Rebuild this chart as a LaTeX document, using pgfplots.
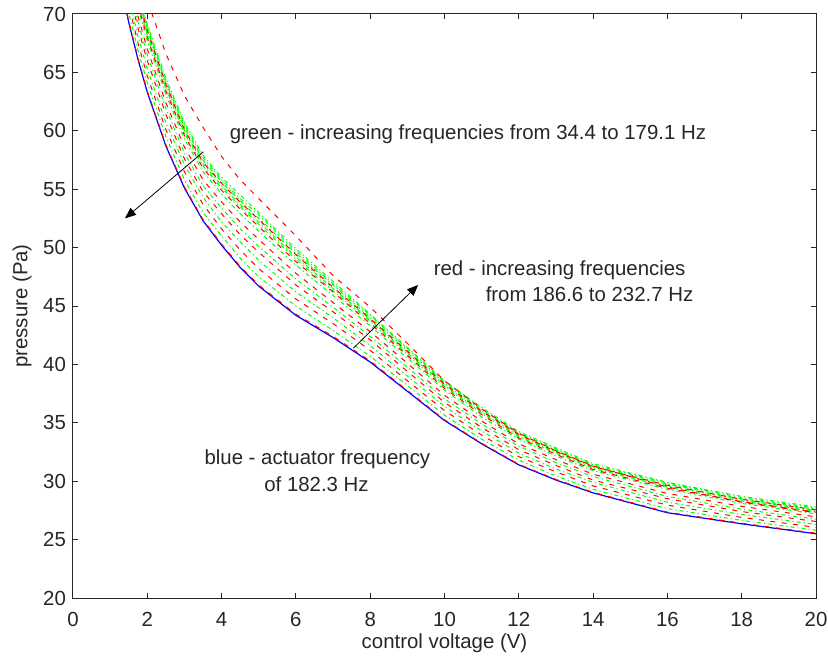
\documentclass[border=0pt]{standalone}
\usepackage{fontspec}
\setmainfont{Liberation Sans}
\usepackage{pgfplots}
\usepackage{pgfplotstable}
\pgfplotsset{compat=1.18}
\usetikzlibrary{arrows.meta}

\pgfplotstableread{
x    b     r0    g0    r1    g1    r2    g2    r3    g3    r4    g4    g5    r5    g6    g7    g8    r6
1.25 72.8  72.9  73.6  74.3  74.9  75.5  76.0  76.5  77.3  77.6  77.8  78.0  78.2  78.3  78.5  78.7  81.5
1.5  69.3  69.4  70.1  70.8  71.4  72.0  72.5  73.0  73.8  74.1  74.3  74.5  74.7  74.8  75.0  75.2  77.5
1.75 66.1  66.2  66.9  67.5  68.1  68.8  69.3  69.8  70.5  70.8  71.0  71.2  71.4  71.5  71.7  71.9  74.0
2    63.3  63.4  64.1  64.7  65.3  66.0  66.5  67.0  67.7  68.0  68.2  68.4  68.6  68.7  68.9  69.1  71.2
2.5  58.7  58.8  59.5  60.1  60.7  61.4  61.9  62.4  63.1  63.4  63.6  63.8  64.0  64.1  64.3  64.5  66.6
3    55.1  55.2  55.8  56.5  57.1  57.6  58.1  58.6  59.3  59.6  59.8  60.0  60.1  60.3  60.5  60.7  63.0
3.5  52.3  52.4  53.0  53.7  54.3  54.8  55.3  55.8  56.5  56.8  57.0  57.2  57.3  57.5  57.7  57.9  60.3
4    50.2  50.3  51.0  51.6  52.2  52.9  53.4  53.9  54.6  54.9  55.1  55.3  55.5  55.6  55.8  56.0  57.8
4.5  48.3  48.4  49.1  49.8  50.5  51.1  51.6  52.2  52.9  53.3  53.5  53.7  53.9  54.0  54.2  54.5  55.8
5    46.7  46.8  47.5  48.2  48.9  49.6  50.1  50.7  51.4  51.8  52.0  52.2  52.4  52.5  52.8  53.0  54.2
6    44.2  44.3  45.0  45.6  46.2  46.8  47.3  47.8  48.5  48.8  49.0  49.2  49.4  49.5  49.7  49.9  51.0
7    42.3  42.4  42.9  43.5  44.0  44.5  44.9  45.3  45.9  46.2  46.3  46.5  46.6  46.8  46.9  47.1  47.6
8    40.2  40.3  40.7  41.2  41.6  42.1  42.4  42.8  43.3  43.5  43.7  43.8  43.9  44.0  44.2  44.3  44.9
9    37.7  37.77 38.2  38.6  39.0  39.4  39.75 40.1  40.55 40.75 40.85 41.0  41.1  41.2  41.35 41.45 41.8
10   35.2  35.26 35.65 36.05 36.4  36.75 37.05 37.35 37.8  37.95 38.1  38.2  38.3  38.4  38.5  38.6  38.6
11   33.2  33.25 33.6  33.95 34.3  34.6  34.9  35.15 35.5  35.7  35.8  35.9  36.0  36.05 36.15 36.3  36.2
12   31.4  31.45 31.8  32.1  32.4  32.7  33.0  33.2  33.6  33.7  33.8  33.9  34.0  34.05 34.15 34.25 34.1
13   30.1  30.15 30.45 30.8  31.05 31.35 31.6  31.85 32.15 32.3  32.4  32.5  32.55 32.65 32.75 32.85 32.6
14   29.0  29.05 29.3  29.6  29.9  30.1  30.4  30.6  30.9  31.0  31.1  31.2  31.25 31.3  31.4  31.5  31.3
16   27.3  27.35 27.65 27.95 28.2  28.5  28.7  28.95 29.3  29.4  29.5  29.6  29.65 29.75 29.85 29.9  29.5
18   26.35 26.4  26.65 26.9  27.15 27.4  27.6  27.85 28.1  28.25 28.3  28.4  28.45 28.5  28.6  28.7  28.2
20   25.5  25.55 25.8  26.05 26.3  26.55 26.75 26.95 27.2  27.35 27.4  27.5  27.55 27.6  27.7  27.8  27.3
}\curves

\definecolor{mblue}{RGB}{0,0,255}
\definecolor{mred}{RGB}{255,0,0}
\definecolor{mgreen}{RGB}{0,255,0}

\begin{document}
\begin{tikzpicture}[font=\fontsize{10.2pt}{12pt}\selectfont]
\path[use as bounding box] (-36.5pt,-33pt) rectangle (377.5pt,299pt);
\begin{axis}[
  scale only axis, width=371.5pt, height=292pt,
  xmin=0, xmax=20, ymin=20, ymax=70,
  xtick={0,2,...,20}, ytick={20,25,...,70},
  tick align=inside, major tick length=2.5pt,
  axis line style={line width=0.5pt, black!85},
  every tick/.style={black!85, line width=0.5pt},
  /pgf/number format/assume math mode=true,
  tick label style={font=\fontsize{10.2pt}{12pt}\selectfont, text=black!85},
  xticklabel style={yshift=-3.5pt},
  label style={font=\fontsize{10.2pt}{12pt}\selectfont, text=black!85},
  xlabel={control voltage (V)}, ylabel={pressure (Pa)},
  xlabel style={at={(axis description cs:0.5,-0.078)}, anchor=center},
  ylabel style={at={(axis description cs:-0.0686,0.5)}, anchor=center},
  red/.style={mred, line width=0.5pt, dash pattern=on 2.5pt off 3.2pt},
  grn/.style={mgreen, line width=0.5pt, dash pattern=on 2pt off 1.5pt on 0.6pt off 1.5pt},
]
\addplot[mblue, line width=0.6pt] table[x=x, y=b] {\curves};
\addplot[grn] table[x=x, y=g0] {\curves};
\addplot[grn] table[x=x, y=g1] {\curves};
\addplot[grn] table[x=x, y=g2] {\curves};
\addplot[grn] table[x=x, y=g3] {\curves};
\addplot[grn] table[x=x, y=g4] {\curves};
\addplot[grn] table[x=x, y=g5] {\curves};
\addplot[grn] table[x=x, y=g6] {\curves};
\addplot[grn] table[x=x, y=g7] {\curves};
\addplot[grn] table[x=x, y=g8] {\curves};
\addplot[red] table[x=x, y=r0] {\curves};
\addplot[red] table[x=x, y=r1] {\curves};
\addplot[red] table[x=x, y=r2] {\curves};
\addplot[red] table[x=x, y=r3] {\curves};
\addplot[red] table[x=x, y=r4] {\curves};
\addplot[red] table[x=x, y=r5] {\curves};
\addplot[red] table[x=x, y=r6] {\curves};

\draw[black, line width=0.4pt, -{Triangle[length=5.5pt,width=4.5pt]}] (axis cs:3.51,58.2) -- (axis cs:1.40,52.5);
\draw[black, line width=0.4pt, -{Triangle[length=5.5pt,width=4.5pt]}] (axis cs:7.55,41.4) -- (axis cs:9.29,46.8);

\node[anchor=base west, inner sep=0pt, text=black!85] at (axis cs:4.21,59.27) {green - increasing frequencies from 34.4 to 179.1 Hz};
\node[anchor=base west, inner sep=0pt, text=black!85] at (axis cs:9.70,47.6) {red - increasing frequencies};
\node[anchor=base west, inner sep=0pt, text=black!85] at (axis cs:11.1,45.37) {from 186.6 to 232.7 Hz};
\node[anchor=base west, inner sep=0pt, text=black!85] at (axis cs:3.53,31.47) {blue - actuator frequency};
\node[anchor=base west, inner sep=0pt, text=black!85] at (axis cs:5.14,29.08) {of 182.3 Hz};
\end{axis}
\end{tikzpicture}
\end{document}
